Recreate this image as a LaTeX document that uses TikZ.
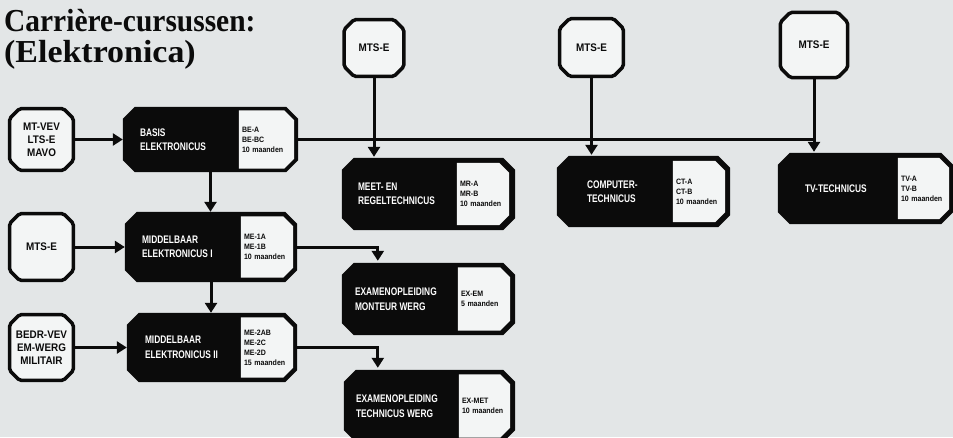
\documentclass[tikz,border=0pt]{standalone}
\usepackage{fontspec}
\usetikzlibrary{arrows.meta,calc,backgrounds}
\newfontfamily\boxfont[FakeStretch=0.76]{Liberation Sans}
\newfontfamily\smallfont[FakeStretch=0.9]{Liberation Sans}
\newfontfamily\titlefontA[FakeStretch=0.92]{Liberation Serif}
\newfontfamily\titlefontB[FakeStretch=1.06]{Liberation Serif}
\definecolor{bgc}{HTML}{E3E6E7}
\definecolor{panelc}{HTML}{F3F5F5}
\definecolor{inkc}{HTML}{0B0B0B}
% chamfered outline through the corners of a named node
\newcommand{\octpath}[2]{([xshift=#2]#1.north west) -- ([xshift=-#2]#1.north east)
  -- ([yshift=-#2]#1.north east) -- ([yshift=#2]#1.south east)
  -- ([xshift=-#2]#1.south east) -- ([xshift=#2]#1.south west)
  -- ([yshift=#2]#1.south west) -- ([yshift=-#2]#1.north west) -- cycle}
\newcommand{\rpanelpath}[2]{(#1.north west) -- ([xshift=-#2]#1.north east)
  -- ([yshift=-#2]#1.north east) -- ([yshift=#2]#1.south east)
  -- ([xshift=-#2]#1.south east) -- (#1.south west) -- cycle}
\begin{document}
\begin{tikzpicture}[x=1pt,y=-1pt,
  ibox/.style 2 args={rectangle, inner sep=0pt,
     minimum width=#1pt, minimum height=#2pt, align=center,
     font=\smallfont\bfseries\fontsize{11}{13}\selectfont, text=inkc},
  ifill/.style={draw=inkc, line width=3.5pt, fill=panelc, rounded corners=2pt},
  bbox/.style 2 args={rectangle, inner sep=0pt, minimum width=#1pt, minimum height=#2pt},
  panel/.style 2 args={rectangle, inner xsep=3pt, inner ysep=0pt,
     text width=#1pt, minimum height=#2pt, align=left,
     font=\smallfont\bfseries\fontsize{7.8}{10}\selectfont, text=inkc},
  btext/.style={inner sep=0pt, align=left, text=white,
     font=\boxfont\bfseries\fontsize{11}{14.5}\selectfont},
  conn/.style={draw=inkc, line width=3pt},
  arr/.style={conn, -{Triangle[width=12pt,length=10pt]}},
  ttl/.style={inner sep=0pt, anchor=base west, text=inkc}
]
\useasboundingbox (0,0) rectangle (953,437);

% title
\node[ttl, font=\titlefontA\bfseries\fontsize{32}{32}\selectfont] (title1) at (4,31) {Carrière-cursussen:};
\node[ttl, font=\titlefontB\bfseries\fontsize{32}{32}\selectfont] (title2) at (4,62) {(Elektronica)};

% input boxes
\node[ibox={63.5}{61.5}] (in1) at (41.5,139.5) {MT-VEV\\LTS-E\\MAVO};
\node[ibox={63.5}{66.5}] (in2) at (41.5,247) {MTS-E};
\node[ibox={63.5}{65.5}] (in3) at (41.5,347.5) {BEDR-VEV\\EM-WERG\\MILITAIR};
\node[ibox={59.5}{56.5}] (top1) at (374,48) {MTS-E};
\node[ibox={63.5}{57.5}] (top2) at (591.5,47.5) {MTS-E};
\node[ibox={67}{65}] (top3) at (814,45) {MTS-E};

% black boxes, panels and their texts
\node[bbox={175}{65}] (basis) at (210.5,139.5) {};
\node[panel={49}{58}, anchor=east] (basisP) at ([xshift=-4pt]basis.east) {BE-A\\BE-BC\\10 maanden};
\node[btext, anchor=west] (basisT) at ([xshift=17pt]basis.west) {BASIS\\ELEKTRONICUS};

\node[bbox={172}{70}] (mid1) at (211,247) {};
\node[panel={46}{61}, anchor=east] (mid1P) at ([xshift=-4pt]mid1.east) {ME-1A\\ME-1B\\10 maanden};
\node[btext, anchor=west] (mid1T) at ([xshift=17pt]mid1.west) {MIDDELBAAR\\ELEKTRONICUS I};

\node[bbox={170}{69}] (mid2) at (212,347.5) {};
\node[panel={46}{60}, anchor=east] (mid2P) at ([xshift=-4pt]mid2.east) {ME-2AB\\ME-2C\\ME-2D\\15 maanden};
\node[btext, anchor=west] (mid2T) at ([xshift=18pt]mid2.west) {MIDDELBAAR\\ELEKTRONICUS II};

\node[bbox={173}{72}] (meet) at (428.5,194) {};
\node[panel={46}{62}, anchor=east] (meetP) at ([xshift=-6pt]meet.east) {MR-A\\MR-B\\10 maanden};
\node[btext, anchor=west] (meetT) at ([xshift=16pt]meet.west) {MEET- EN\\REGELTECHNICUS};

\node[bbox={173}{71}] (comp) at (643.5,191.5) {};
\node[panel={46}{61}, anchor=east] (compP) at ([xshift=-5pt]comp.east) {CT-A\\CT-B\\10 maanden};
\node[btext, anchor=west] (compT) at ([xshift=30pt]comp.west) {COMPUTER-\\TECHNICUS};

\node[bbox={175}{71}] (tv) at (865.5,188.5) {};
\node[panel={45}{61}, anchor=east] (tvP) at ([xshift=-4pt]tv.east) {TV-A\\TV-B\\10 maanden};
\node[btext, anchor=west] (tvT) at ([xshift=27pt]tv.west) {TV-TECHNICUS};

\node[bbox={173}{72}] (ex1) at (428.5,299) {};
\node[panel={46}{63}, anchor=east] (ex1P) at ([xshift=-5pt]ex1.east) {EX-EM\\5 maanden};
\node[btext, anchor=west] (ex1T) at ([xshift=13pt]ex1.west) {EXAMENOPLEIDING\\MONTEUR WERG};

\node[bbox={171}{72}] (ex2) at (429.5,406) {};
\node[panel={45}{63}, anchor=east] (ex2P) at ([xshift=-5pt]ex2.east) {EX-MET\\10 maanden};
\node[btext, anchor=west] (ex2T) at ([xshift=12pt]ex2.west) {EXAMENOPLEIDING\\TECHNICUS WERG};

\begin{pgfonlayer}{background}
  \fill[bgc] (0,0) rectangle (953,437);
  \foreach \n in {in1,in2,in3,top1,top2,top3}{\filldraw[ifill] \octpath{\n}{10pt};}
  \foreach \n in {basis,mid1,mid2,meet,comp,tv,ex1,ex2}{\fill[inkc] \octpath{\n}{12pt};}
  \foreach \n in {basisP,mid1P,mid2P,meetP,compP,tvP,ex1P,ex2P}{\fill[panelc] \rpanelpath{\n}{10pt};}
\end{pgfonlayer}

% connectors
\draw[arr] (in1) -- (basis);
\draw[arr] (in2) -- (mid1);
\draw[arr] (in3) -- (mid2);
\draw[arr] (basis.south) -- (basis.south |- mid1.north);
\draw[arr] (mid1.south) -- (mid1.south |- mid2.north);
\draw[conn] (basis.east) -- (basis.east -| top3.south);
\draw[arr, shorten >=1pt] (top1.south) -- (top1.south |- meet.north);
\draw[arr, shorten >=1pt] (top2.south) -- (top2.south |- comp.north);
\draw[arr, shorten >=1pt] (top3.south) -- (top3.south |- tv.north);
\draw[arr, shorten >=2pt] (mid1.east) -| ($(ex1.north west)+(36,0)$);
\draw[arr, shorten >=2pt] (mid2.east) -| ($(ex2.north west)+(34,0)$);
\end{tikzpicture}
\end{document}
